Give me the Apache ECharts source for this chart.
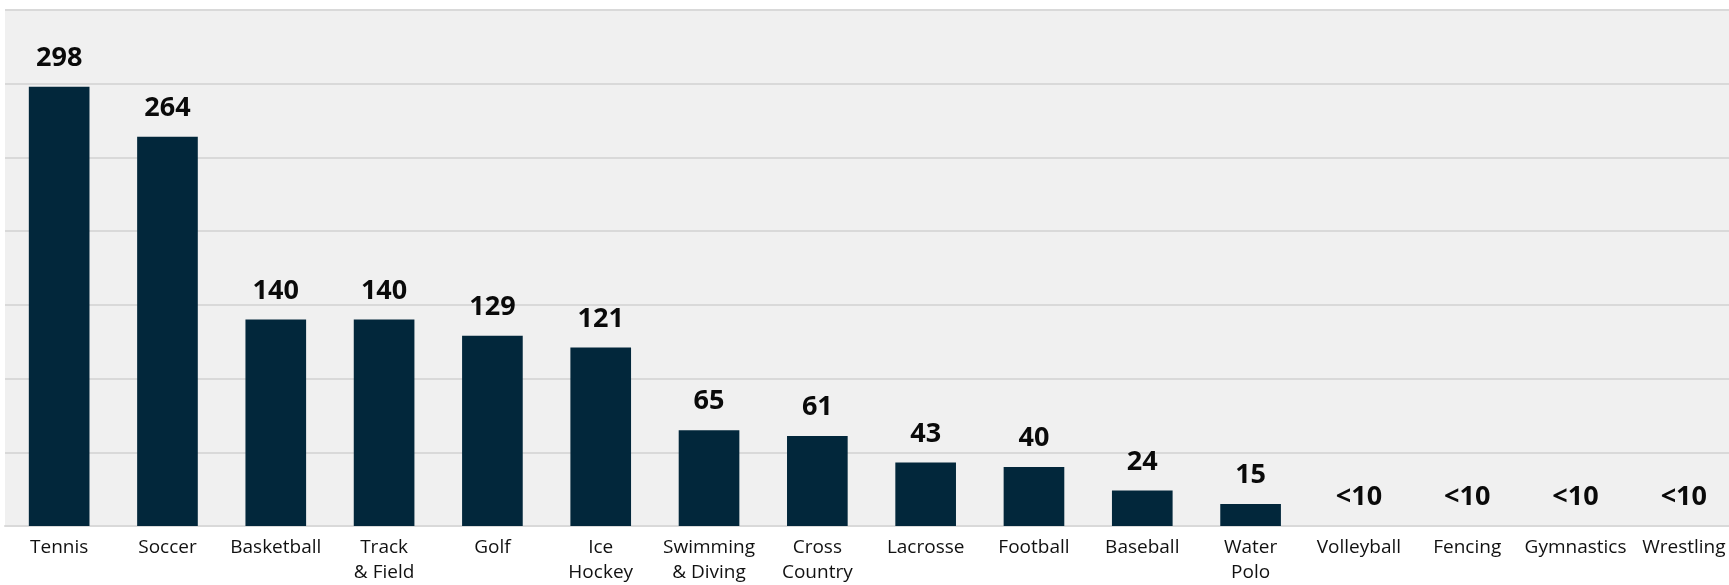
<!DOCTYPE html>
<html>
<head>
<meta charset="utf-8">
<script src="https://cdn.jsdelivr.net/npm/echarts@6/dist/echarts.min.js"></script>
<style>
html,body{margin:0;padding:0;background:#fff;overflow:hidden;width:1729px;height:585px;}
#c{width:1738px;height:585px;}
</style>
</head>
<body>
<div id="c"></div>
<script>
const categories = ["Tennis","Soccer","Basketball","Track\n& Field","Golf","Ice\nHockey","Swimming\n& Diving","Cross\nCountry","Lacrosse","Football","Baseball","Water\nPolo","Volleyball","Fencing","Gymnastics","Wrestling"];
const values = [298,264,140,140,129,121,65,61,43,40,24,15,0,0,0,0];
const valueLabels = ["298","264","140","140","129","121","65","61","43","40","24","15","<10","<10","<10","<10"];
const yTicks = [0,50,100,150,200,250,300,350];

const chart = echarts.init(document.getElementById('c'));
chart.setOption({
  animation:false,
  grid:{left:5,right:0,top:10,bottom:59,show:true,backgroundColor:'#f0f0f0',borderWidth:0},
  xAxis:{
    type:'category',
    data:categories,
    axisLine:{show:true,lineStyle:{color:'#d9d9d9',width:2}},
    axisTick:{show:false},
    axisLabel:{color:'#111',fontFamily:'Open Sans',fontSize:19,lineHeight:25,margin:9,interval:0}
  },
  yAxis:{
    type:'value',
    min:yTicks[0],max:yTicks[yTicks.length-1],interval:50,
    axisLabel:{show:false},
    axisLine:{show:false},axisTick:{show:false},
    splitLine:{lineStyle:{color:'#d9d9d9',width:2}}
  },
  series:[{
    type:'bar',
    data:values,
    barCategoryGap:'44%',
    itemStyle:{color:'#02273b'},
    label:{
      show:true,position:'top',distance:15,
      fontFamily:'Open Sans',fontWeight:'bold',fontSize:27,color:'#0a0a0a',
      formatter:p=>valueLabels[p.dataIndex]
    }
  }]
});
</script>
</body>
</html>
